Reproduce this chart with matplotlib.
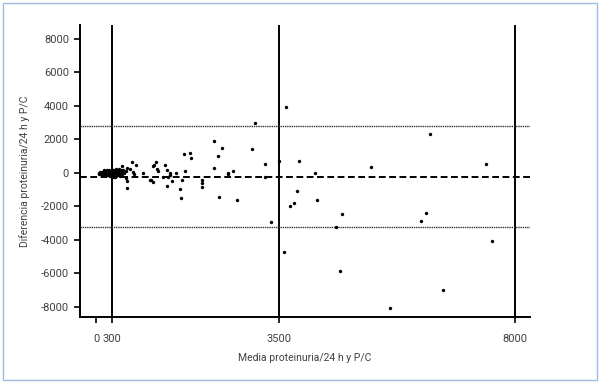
import matplotlib
matplotlib.use("Agg")
from matplotlib import pyplot as plt
from matplotlib.patches import Rectangle

# Bland-Altman: media vs diferencia (proteinuria 24 h y P/C)
media = [
    # cluster bajo 300
    50, 70, 80, 95, 100, 110, 120, 130, 140, 150, 160, 170, 175, 185, 190,
    200, 210, 220, 230, 240, 250, 260, 270, 280, 290, 300, 310, 320, 330,
    340, 350, 360, 370, 380, 390, 400, 410, 420, 430, 440, 450, 460, 470,
    480, 500, 520, 540, 560, 330, 240, 150, 200, 60, 120, 265, 305, 355,
    # resto
    485, 580, 567, 587, 593, 644, 676, 752, 700, 720, 892, 1020, 1045, 1089,
    1097, 1089, 1143, 1170, 1190, 1280, 1318, 1358, 1376, 1408, 1410, 1358,
    1452, 1523, 1599, 1613, 1643, 1682, 1695, 1796, 1815, 2014, 2014, 2014,
    2243, 2249, 2319, 2395, 2344, 2510, 2522, 2618, 2682, 2981, 3032, 3219,
    3223, 3344, 3490, 3586, 3619, 3701, 3783, 3829, 3879, 4172, 4217, 4580,
    4662, 4694, 5255, 5612, 6201, 6305, 6370, 6624, 7446, 7573,
]
diferencia = [
    20, -30, 60, 10, -60, 80, 30, -20, 110, -90, 50, 0, -130, 140, 70,
    -40, 20, -150, 90, 180, -70, 30, -190, 120, -10, 60, -120, 200, 10,
    -60, 150, -220, 40, 230, -150, 90, -30, 120, -100, 250, 0, -180, 160,
    40, -90, 200, -30, 110, -250, -120, 150, 200, -90, -140, -60, 170, -10,
    438, 280, -318, -480, -915, 239, 640, 478, 40, -60, 20, -438, -418, -557,
    478, 398, 677, 210, 119, -220, 497, 179, -256, -140, 0, -756,
    -478, 20, -935, -1512, -418, 1134, 139, 1214, 877, -418, -577, -835,
    1910, 280, 1035, 1512, -1453, -60, -20, 119, -1631, 1451, 3000, 537,
    -220, -2945, 740, -4736, 3950, -1950, -1811, -1075, 734, -20, -1631, -3204,
    -5851, -2468, 376, -8060, -2885, -2388, 2328, -6965, 537, -4040,
]

media_dif = -225
limite_sup = 2800
limite_inf = -3250
cortes = [300, 3500, 8000]

x_ticks = [0, 300, 3500, 8000]
y_ticks = [-8000, -6000, -4000, -2000, 0, 2000, 4000, 6000, 8000]

plt.rcParams['font.family'] = ['Roboto', 'DejaVu Sans']
gris = '#404040'

fig = plt.figure(figsize=(6, 3.83), dpi=100)
ax = fig.add_axes([80 / 600, 1 - 317 / 383, 450 / 600, 292 / 383])

for c in cortes:
    ax.axvline(c, color='black', linewidth=1.4, zorder=2)

ax.axhline(media_dif, color='black', linewidth=1.4, linestyle=(0, (3.5, 1.8)), zorder=2)
ax.axhline(limite_sup, color='#333333', linewidth=1.0, linestyle=(0, (1, 0.6)), zorder=2)
ax.axhline(limite_inf, color='#333333', linewidth=1.0, linestyle=(0, (1, 0.6)), zorder=2)

ax.scatter(media, diferencia, s=6, color='black', linewidths=0, zorder=3)

ax.set_xlim(-310, 8290)
ax.set_ylim(-8600, 8835)
ax.set_xticks(x_ticks)
ax.set_yticks(y_ticks)
ax.set_xticklabels([str(v) for v in x_ticks])
ax.set_yticklabels([str(v) for v in y_ticks])

for s in ['top', 'right']:
    ax.spines[s].set_visible(False)
for s in ['left', 'bottom']:
    ax.spines[s].set_linewidth(1.4)

ax.tick_params(axis='both', direction='out', length=4, width=1.2, color='black',
               labelsize=8, labelcolor=gris, pad=4)
ax.tick_params(axis='x', pad=8)

ax.set_xlabel('Media proteinuria/24 h y P/C', fontsize=7.5, color=gris, labelpad=7)
ax.set_ylabel('Diferencia proteinuria/24 h y P/C', fontsize=7.5, color=gris, labelpad=8)

# marco azul claro alrededor de la figura
fig.patches.append(Rectangle((3 / 600, 3 / 383), 594 / 600, 377 / 383,
                             transform=fig.transFigure, fill=False,
                             edgecolor='#9dbbe3', linewidth=1.0))

fig.savefig('out.png', dpi=100)
